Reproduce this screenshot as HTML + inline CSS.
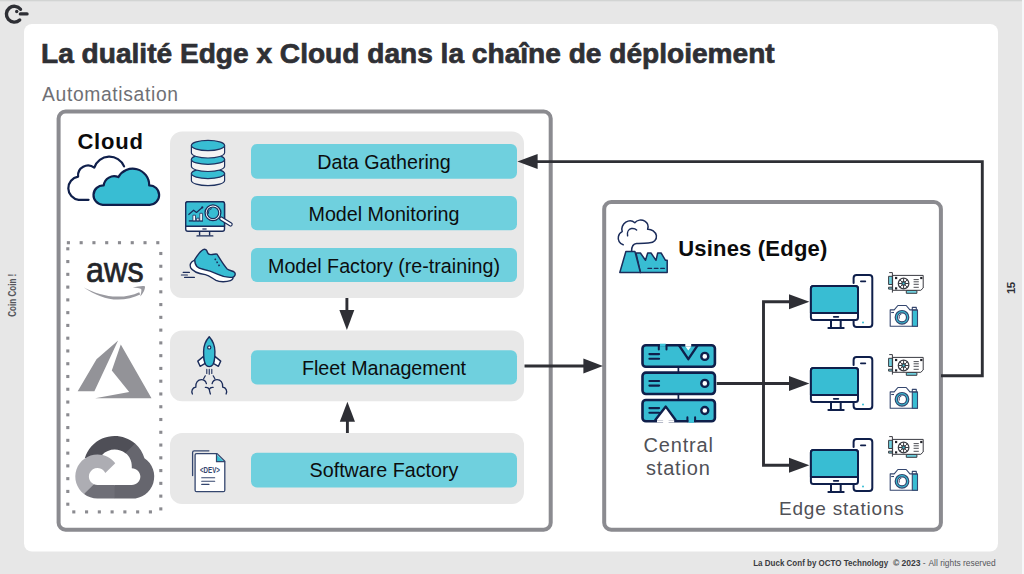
<!DOCTYPE html>
<html><head><meta charset="utf-8">
<style>
html,body{margin:0;padding:0;width:1024px;height:574px;overflow:hidden;background:#e7e7e7;}
svg{position:absolute;left:0;top:0;display:block;}
text{font-family:"Liberation Sans",sans-serif;}
</style></head>
<body>
<svg width="1024" height="574" viewBox="0 0 1024 574">
<defs>
  <g id="monitor">
  </g>
</defs>
<!-- page bg -->
<rect x="0" y="0" width="1024" height="574" fill="#e7e7e7"/>
<rect x="0" y="0" width="1024" height="1.3" fill="#d2d4d3"/>
<rect x="1022" y="0" width="2" height="574" fill="#f6f7f9"/>
<!-- card -->
<rect x="24" y="24" width="974" height="527.5" rx="8" fill="#ffffff"/>

<!-- logo -->
<g fill="none" stroke="#2e2f35" stroke-width="3.4" stroke-linecap="round">
  <path d="M20.5 9.3 A7.9 7.9 0 1 0 19.7 20"/>
  <line x1="20.4" y1="13.9" x2="27" y2="13.9"/>
</g>
<circle cx="16.7" cy="11.5" r="1.7" fill="#2e2f35"/>

<!-- side texts -->
<text transform="translate(15.7,316.7) rotate(-90)" font-size="10.4" font-weight="700" fill="#55565b" textLength="43" lengthAdjust="spacingAndGlyphs">Coin Coin !</text>
<text transform="translate(1015.1,294) rotate(-90)" font-size="11.6" font-weight="700" fill="#2e2f35" letter-spacing="-0.7">15</text>
<!-- footer -->
<g font-size="8.6" fill="#3a3b40">
<text x="753.2" y="566.3" font-weight="700" textLength="135" lengthAdjust="spacingAndGlyphs">La Duck Conf by OCTO Technology</text>
<text x="892.9" y="566.3" font-weight="700" textLength="27.7" lengthAdjust="spacingAndGlyphs">© 2023</text>
<text x="922.8" y="566.3" fill="#55565b">-</text>
<text x="928.5" y="566.3" fill="#55565b" textLength="67.2" lengthAdjust="spacingAndGlyphs">All rights reserved</text>
</g>

<!-- title -->
<text x="41" y="63" font-size="28.1" font-weight="700" fill="#2f3035" stroke="#2f3035" stroke-width="0.7">La dualité Edge x Cloud dans la chaîne de déploiement</text>
<text x="42" y="101.1" font-size="19.3" fill="#6f7075" letter-spacing="0.65">Automatisation</text>

<!-- frames -->
<rect x="58.6" y="111.6" width="492.1" height="418.1" rx="7" fill="none" stroke="#8b8b90" stroke-width="4"/>
<rect x="604.2" y="202.1" width="336.7" height="327.6" rx="7" fill="none" stroke="#8b8b90" stroke-width="4"/>

<!-- panels -->
<rect x="170" y="131.4" width="354" height="166.6" rx="12" fill="#e8e8e8"/>
<rect x="170" y="330.5" width="354" height="70.8" rx="12" fill="#e8e8e8"/>
<rect x="170" y="433" width="354" height="71" rx="12" fill="#e8e8e8"/>

<!-- teal boxes -->
<g fill="#6fd0de">
<rect x="251" y="144" width="266" height="34.7" rx="6"/>
<rect x="251" y="196" width="266" height="34.2" rx="6"/>
<rect x="251" y="248.1" width="266" height="33.9" rx="6"/>
<rect x="251" y="350.2" width="266" height="34.3" rx="6"/>
<rect x="251" y="452.8" width="266" height="34.7" rx="6"/>
</g>
<g font-size="19.7" fill="#0c0d0e" text-anchor="middle">
<text x="384" y="168.9">Data Gathering</text>
<text x="384" y="220.7">Model Monitoring</text>
<text x="384" y="272.6">Model Factory (re-training)</text>
<text x="384" y="374.8">Fleet Management</text>
<text x="384" y="477.4">Software Factory</text>
</g>

<!-- Cloud header -->
<text x="77.4" y="148.5" font-size="22" font-weight="700" fill="#0b0b0c" letter-spacing="0.8">Cloud</text>
<text x="678.2" y="256" font-size="22" font-weight="700" fill="#0b0b0c" letter-spacing="0.2">Usines (Edge)</text>

<!-- edge labels -->
<g font-size="20" fill="#505157" text-anchor="middle">
<text x="678.6" y="451.6" letter-spacing="0.8">Central</text>
<text x="678.3" y="475" letter-spacing="0.8">station</text>
</g>
<text x="841.8" y="515.2" font-size="19" fill="#505157" text-anchor="middle" letter-spacing="0.8">Edge stations</text>

<!-- dotted box -->
<g fill="#8b8b90"><rect x="66.85" y="241.15" width="3.1" height="3.1"/><rect x="79.62" y="241.15" width="3.1" height="3.1"/><rect x="92.39" y="241.15" width="3.1" height="3.1"/><rect x="105.16" y="241.15" width="3.1" height="3.1"/><rect x="117.93" y="241.15" width="3.1" height="3.1"/><rect x="130.70" y="241.15" width="3.1" height="3.1"/><rect x="143.47" y="241.15" width="3.1" height="3.1"/><rect x="156.24" y="241.15" width="3.1" height="3.1"/><rect x="159.25" y="251.95" width="3.1" height="3.1"/><rect x="159.25" y="264.72" width="3.1" height="3.1"/><rect x="159.25" y="277.49" width="3.1" height="3.1"/><rect x="159.25" y="290.26" width="3.1" height="3.1"/><rect x="159.25" y="303.03" width="3.1" height="3.1"/><rect x="159.25" y="315.80" width="3.1" height="3.1"/><rect x="159.25" y="328.57" width="3.1" height="3.1"/><rect x="159.25" y="341.34" width="3.1" height="3.1"/><rect x="159.25" y="354.11" width="3.1" height="3.1"/><rect x="159.25" y="366.88" width="3.1" height="3.1"/><rect x="159.25" y="379.65" width="3.1" height="3.1"/><rect x="159.25" y="392.42" width="3.1" height="3.1"/><rect x="159.25" y="405.19" width="3.1" height="3.1"/><rect x="159.25" y="417.96" width="3.1" height="3.1"/><rect x="159.25" y="430.73" width="3.1" height="3.1"/><rect x="159.25" y="443.50" width="3.1" height="3.1"/><rect x="159.25" y="456.27" width="3.1" height="3.1"/><rect x="159.25" y="469.04" width="3.1" height="3.1"/><rect x="159.25" y="481.81" width="3.1" height="3.1"/><rect x="159.25" y="494.58" width="3.1" height="3.1"/><rect x="159.25" y="507.35" width="3.1" height="3.1"/><rect x="72.25" y="510.35" width="3.1" height="3.1"/><rect x="85.02" y="510.35" width="3.1" height="3.1"/><rect x="97.79" y="510.35" width="3.1" height="3.1"/><rect x="110.56" y="510.35" width="3.1" height="3.1"/><rect x="123.33" y="510.35" width="3.1" height="3.1"/><rect x="136.10" y="510.35" width="3.1" height="3.1"/><rect x="148.87" y="510.35" width="3.1" height="3.1"/><rect x="66.25" y="247.25" width="3.1" height="3.1"/><rect x="66.25" y="260.02" width="3.1" height="3.1"/><rect x="66.25" y="272.79" width="3.1" height="3.1"/><rect x="66.25" y="285.56" width="3.1" height="3.1"/><rect x="66.25" y="298.33" width="3.1" height="3.1"/><rect x="66.25" y="311.10" width="3.1" height="3.1"/><rect x="66.25" y="323.87" width="3.1" height="3.1"/><rect x="66.25" y="336.64" width="3.1" height="3.1"/><rect x="66.25" y="349.41" width="3.1" height="3.1"/><rect x="66.25" y="362.18" width="3.1" height="3.1"/><rect x="66.25" y="374.95" width="3.1" height="3.1"/><rect x="66.25" y="387.72" width="3.1" height="3.1"/><rect x="66.25" y="400.49" width="3.1" height="3.1"/><rect x="66.25" y="413.26" width="3.1" height="3.1"/><rect x="66.25" y="426.03" width="3.1" height="3.1"/><rect x="66.25" y="438.80" width="3.1" height="3.1"/><rect x="66.25" y="451.57" width="3.1" height="3.1"/><rect x="66.25" y="464.34" width="3.1" height="3.1"/><rect x="66.25" y="477.11" width="3.1" height="3.1"/><rect x="66.25" y="489.88" width="3.1" height="3.1"/><rect x="66.25" y="502.65" width="3.1" height="3.1"/>
</g>

<!-- arrows / lines -->
<g fill="none" stroke="#2e2f35" stroke-width="2.9">
  <polyline points="941,375.8 982.3,375.8 982.3,161.6 536,161.6"/>
  <line x1="524.5" y1="366" x2="585" y2="366"/>
  <line x1="346.9" y1="298" x2="346.9" y2="311"/>
  <line x1="347.4" y1="420" x2="347.4" y2="433"/>
  <line x1="716.7" y1="383.5" x2="790" y2="383.5"/>
  <polyline points="790,301.7 763.5,301.7 763.5,465.2 790,465.2"/>
</g>
<g fill="#2e2f35">
  <polygon points="517.4,161.5 537.6,154 537.6,169"/>
  <polygon points="602.9,366 583.4,358.4 583.4,373.5"/>
  <polygon points="346.9,329.9 339.4,310 354.3,310"/>
  <polygon points="347.4,401.7 339.8,421.7 355,421.7"/>
  <polygon points="809.4,301.7 789,294.2 789,309.2"/>
  <polygon points="809.4,383.6 789,376.1 789,391.1"/>
  <polygon points="809.4,465.3 789,457.8 789,472.8"/>
</g>

<!-- ICONS -->
<!-- cloud pair -->
<g stroke="#0f1f4b" stroke-width="2.2" stroke-linecap="round" stroke-linejoin="round">
  <path d="M88.56 199.86 H78.63 A11.78 11.78 0 0 1 78.1 176.56 A10 10 0 0 1 94.3 167.67 A15.9 15.9 0 0 1 124.08 166.42" fill="none"/>
  <path d="M102.7 204.8 H149.7 A9.6 9.6 0 0 0 149.2 185.4 A16.5 16.5 0 0 0 118.3 177.1 A10.5 10.5 0 0 0 103.7 185.4 A9.6 9.6 0 0 0 102.7 204.8 Z" fill="#38bdd3"/>
</g>

<!-- database -->
<g stroke="#1f3260" stroke-width="1.2">
  <path d="M191.4 173.6 V180.4 A16.6 5.2 0 0 0 224.6 180.4 V173.6" fill="#f3f3f3"/>
  <ellipse cx="208" cy="173.6" rx="16.6" ry="5" fill="#38bdd3"/>
  <path d="M191.4 159.4 V166.3 A16.6 5.2 0 0 0 224.6 166.3 V159.4" fill="#f3f3f3"/>
  <ellipse cx="208" cy="159.4" rx="16.6" ry="5" fill="#38bdd3"/>
  <path d="M191.4 145.5 V152.8 A16.6 5.2 0 0 0 224.6 152.8 V145.5" fill="#f3f3f3"/>
  <ellipse cx="208" cy="145.5" rx="16.6" ry="5.1" fill="#38bdd3"/>
</g>
<!-- monitor analytics -->
<g stroke="#1b2c5a" stroke-width="1.4" stroke-linejoin="round">
  <rect x="185.7" y="201.7" width="38.8" height="29.6" rx="2.2" fill="#ffffff"/>
  <path d="M185.7 226.3 V203.9 A2.2 2.2 0 0 1 187.9 201.7 H222.3 A2.2 2.2 0 0 1 224.5 203.9 V226.3 Z" fill="#38bdd3"/>
  <line x1="202.4" y1="229" x2="206.6" y2="229" stroke-width="1.2"/>
  <path d="M199.6 231.3 V235.6 M209.6 231.3 V235.6" fill="none"/>
  <line x1="197" y1="235.9" x2="212.8" y2="235.9" stroke-linecap="round"/>
  <line x1="188.8" y1="220.9" x2="203" y2="220.9" stroke-width="1.3"/>
  <rect x="192.9" y="215.2" width="2.6" height="5.6" fill="#ffffff" stroke-width="0.8"/>
  <rect x="196.7" y="218.2" width="2.3" height="2.6" fill="#ffffff" stroke-width="0.8"/>
  <rect x="199.8" y="213.3" width="2.6" height="7.5" fill="#ffffff" stroke-width="0.8"/>
  <polyline points="188.4,214.8 193.6,210.2 196.5,212.5 202.2,207.5" fill="none" stroke-width="1.2"/>
  <circle cx="202.3" cy="207.4" r="1.1" fill="#1b2c5a" stroke="none"/>
  <path d="M221.2 218.6 L230.6 224.4" stroke-width="4.3" stroke-linecap="round"/>
  <path d="M221.2 218.6 L230.6 224.4" stroke="#ffffff" stroke-width="1.9" stroke-linecap="round"/>
  <circle cx="212.95" cy="212.8" r="7.9" fill="#ffffff" stroke-width="1.3"/>
  <circle cx="212.95" cy="212.8" r="5.8" fill="#38bdd3" stroke-width="1.2"/>
  <path d="M208.6 213.8 A4.6 4.6 0 0 1 211.8 208.6" fill="none" stroke-width="0.9"/>
</g>

<!-- shoe -->
<g stroke="#1b2c5a" stroke-width="1.4" stroke-linejoin="round" stroke-linecap="round">
  <path d="M194.6 260.2 C191.2 261.8 189.2 264.4 190.6 267.6 C192.8 272 199 273.6 205.3 274.6 C209.6 275.4 212.6 278.6 216 280.4 C219.6 282.2 226.6 282 230.4 280.6 C233 279.6 233.6 277.6 232.4 277.2 Z" fill="#ffffff"/>
  <path d="M194.7 259.6 C197.6 255 200.6 250.8 203.2 249.6 C205.2 248.8 206.6 249.8 207 251.2 C207.6 253.4 208.8 254.6 211 254.6 C213.4 254.6 215.6 253.6 217 254.2 C219.8 258.6 223.6 265.2 227.2 269 C229.6 271 233 270.6 234.6 272.4 C236 274.4 234.6 276.8 232.6 277.2 C228 277.8 222.6 276.6 218 274.4 C213 272 208.6 270.2 203 269.2 C197.6 268.2 194.8 266.4 194.7 259.6 Z" fill="#38bdd3"/>
  <path d="M214.9 258.6 L215.7 260.2 M216.7 261.5 L217.5 263.1 M218.6 264.6 L219.4 266.2" stroke-width="1.5" stroke-linecap="butt"/>
  <path d="M183.2 272.4 H189.4 M181.4 275 H187.4 M184.6 277.4 H194.4" stroke-width="1.2"/>
</g>

<!-- rocket -->
<g stroke="#1b2c5a" stroke-width="1.4" stroke-linejoin="round" stroke-linecap="round" fill="none">
  <path d="M203.6 356.4 L197.8 361.1 L200.1 366.3 L205.2 363.4 Z" fill="#ffffff"/>
  <path d="M214.9 356.4 L220.7 361.1 L218.4 366.3 L213.3 363.4 Z" fill="#ffffff"/>
  <path d="M209.24 336.8 C205.8 340.6 203.6 345.6 203.6 351.6 C203.6 357.6 204.2 362.4 205.6 364.6 C206.6 366 208 366.6 209.24 366.6 C210.5 366.6 211.9 366 212.9 364.6 C214.3 362.4 214.9 357.6 214.9 351.6 C214.9 345.6 212.7 340.6 209.24 336.8 Z" fill="#38bdd3"/>
  <circle cx="209.24" cy="347.4" r="1.6" fill="#ffffff" stroke-width="1.2"/>
  <path d="M206.8 369.4 V373.4 M209.24 369.4 V374.2 M211.8 369.4 V373.4" stroke-width="1.1"/>
  <path d="M205.3 375.8 L203.6 378.8 M213.2 375.8 L214.9 378.8" stroke-width="1.2"/>
  <path d="M192.4 394 C191 391 192.4 387.6 195.8 387.2 C195.4 382.6 198 379.6 201.4 379.6 C204 379.6 205.8 381.2 206.4 383.6" stroke-width="1.3"/>
  <path d="M226.1 394 C227.5 391 226.1 387.6 222.7 387.2 C223.1 382.6 220.5 379.6 217.1 379.6 C214.5 379.6 212.7 381.2 212.1 383.6" stroke-width="1.3"/>
  <path d="M205.4 387.4 C207 387.2 208.6 387.8 209.24 389.4 C209.9 387.8 211.5 387.2 213.1 387.4 M209.24 389.4 C209.6 391.2 209.9 392.6 210.4 394" stroke-width="1.3"/>
</g>

<!-- doc -->
<g stroke="#34466e" stroke-width="1.3" fill="none" stroke-linejoin="round" stroke-linecap="round">
  <path d="M192.6 475.6 V452.4 A1.6 1.6 0 0 1 194.2 450.8 H208.9"/>
  <path d="M217.1 453.6 H196.6 A1.5 1.5 0 0 0 195.1 455.1 V490.2 A1.5 1.5 0 0 0 196.6 491.7 H223.3 A1.5 1.5 0 0 0 224.8 490.2 V461.2 Z" fill="#ffffff"/>
  <path d="M216.6 454.4 V461.6 H224" fill="#38bdd3" stroke="none"/>
  <path d="M216.5 453.8 V461.7 H224.6" stroke-width="1.2"/>
  <path d="M201.7 477.8 H214.7 M201.7 481.3 H214.7 M201.7 484.4 H209" stroke-width="1.1"/>
  <text x="209.9" y="472.6" font-size="8.4" font-weight="700" fill="#34466e" stroke="none" text-anchor="middle" transform="translate(209.9 0) scale(0.74 1) translate(-209.9 0)">&lt;DEV&gt;</text>
</g>

<!-- aws -->
<text x="0" y="282.1" font-size="35" fill="#232529" stroke="#232529" stroke-width="0.7" transform="translate(86.1 0) scale(0.925 1)">aws</text>
<path d="M83.4 287.2 C95 295 106 299.6 118 299.6 C126 299.6 134 297.6 140.2 294.6 L139.2 292.2 C132.6 295.4 124.6 296.8 117.2 296.6 C105.6 296.4 94 292.8 83.4 287.2 Z" fill="#9a9aa0"/>
<path d="M132.8 287.8 C136.6 286.6 142 285.6 144.8 286.2 C145.6 287 144.2 292.4 140.2 296.6 C141 293.6 141.8 290.2 141.2 289 C140 288.2 136.2 287.8 132.8 287.8 Z" fill="#9a9aa0"/>
<!-- azure -->
<path d="M118.1 340.4 L96.5 359.3 L77.7 391.3 L94.4 391.3 Z M120.8 344.6 L111.8 370.4 L129.2 392 L95.1 398.3 L151.5 398.3 Z" fill="#939398"/>

<!-- gcp -->
<g transform="translate(75.3 435.9) scale(0.0331 0.03266)">
  <path fill="#4f4f57" d="M1513.8,528.7h72.8l207.4-207.4l10.2-88c-385.9-340.6-975-303.9-1315.6,82C393.9,422.5,325.2,550,287.8,688c23.1-9.5,48.7-11,72.8-4.4l414.7-68.4c0,0,21.1-34.9,32-32.7c184.5-202.6,495-226.2,708-53.8H1513.8z"/>
  <path fill="#66666e" d="M2089.4,688c-47.7-175.5-145.5-333.3-281.6-454l-291,291c122.9,100.4,192.9,251.7,189.9,410.4v51.7c143.1,0,259,116,259,259c0,143.1-116,259-259,259h-518.1l-51.7,52.4v310.7l51.7,51.7h518.1c297,2.3,560.4-190.2,648.4-473.9C2443.4,1162.4,2335.6,854.4,2089.4,688L2089.4,688z"/>
  <path fill="#6f6f77" d="M669.8,1917h518.1v-414.7H669.8c-36.9,0-73.4-7.9-107-23.3l-72.8,22.5l-208.8,207.4l-18.2,72.8C380.1,1870.2,523,1917.6,669.8,1917L669.8,1917z"/>
  <path fill="#adadb3" d="M669.8,571.6c-287.8,1.7-542.7,186-634.5,458.7c-91.8,272.7-0.3,573.7,227.8,749.1l300.5-300.5c-130.4-58.9-188.3-212.3-129.4-342.7c58.9-130.4,212.3-188.3,342.7-129.4c57.4,26,103.4,72,129.4,129.4l300.5-300.5C1078.9,668.6,880.5,570.9,669.8,571.6L669.8,571.6z"/>
</g>

<!-- factory -->
<g stroke="#1b2c5a" stroke-width="1.5" stroke-linejoin="round" stroke-linecap="round">
  <path d="M623.2 244.7 C619.6 243.6 617.6 240 618.4 236.6 C618.8 234.2 620.4 232.4 622.2 231.6 C621 228.2 622.6 224.2 625.8 222.2 C628.8 220.4 632.6 220.8 634.8 222.8 C637.2 219.8 641.6 219.2 644.8 221.2 C647.6 223 648.6 226.4 647.6 229.2 C651.6 229 655.6 231.6 656.4 235.6 C657 239.8 653.6 242.8 649.8 242.8 C645.6 243 640.6 243.2 636.6 243.6 C633 244 631.6 246.6 631.6 251" fill="none"/>
  <path d="M627.6 235.8 C626.8 232 628.6 229.2 631.4 228.6 C633.4 228.2 635.4 228.8 636.6 230" fill="none"/>
  <path d="M636 253 H640.4 L645.5 260.3 L647.7 253 H651 L656 260.3 L657.7 253 H661.1 L665.5 260.3 H667.2 V272.5 H640.4 Z" fill="#38bdd3"/>
  <path d="M619.8 272.5 L625.9 251.4 H634.9 L640.4 272.5 Z" fill="#38bdd3"/>
  <path d="M647.9 268.4 H651.6 M654.3 268.4 H658 M660.7 268.4 H664.4" stroke-width="1.2"/>
</g>

<!-- server -->
<g stroke="#0f1f4b" stroke-width="2.6" stroke-linejoin="round" stroke-linecap="round">
  <rect x="642.5" y="345.2" width="72.4" height="21.6" rx="3.4" fill="#38bdd3"/>
  <rect x="642.5" y="372.6" width="72.4" height="21.4" rx="3.4" fill="#38bdd3"/>
  <rect x="642.5" y="400" width="72.4" height="21.3" rx="3.4" fill="#38bdd3"/>
  <line x1="678.4" y1="366.8" x2="678.4" y2="372.6" stroke-width="1.7"/>
  <line x1="678.4" y1="394" x2="678.4" y2="400" stroke-width="1.7"/>
  <path d="M649.4 354.1 H659.1 M649.4 358.8 H659.1 M649.4 381 H659.1 M649.4 385.6 H659.1 M649.4 408.1 H659.1 M649.4 412.8 H659.1" stroke-width="2.1"/>
  <rect x="659.9" y="343.7" width="5.9" height="3" fill="#3bc2d9" stroke="none"/>
  <rect x="685.3" y="343.6" width="5.9" height="3" fill="#ffffff" stroke="none"/>
  <path d="M658.8 345.3 V349.6 M666.5 345.3 V349.6" fill="none" stroke-width="2"/>
  <path d="M679 345.4 L688.3 359.2 L697.6 345.4" fill="none" stroke-width="2.4"/>
  <path d="M685.6 346.7 H691 L688.3 350.6 Z" fill="#ffffff" stroke="none"/>
  <path d="M655.3 420 L665.8 406.6 L675.6 420" fill="#ffffff" stroke-width="2.4"/>
  <path d="M657 421.3 H674.2" stroke="#ffffff" stroke-width="2.2" stroke-linecap="butt"/>
  <path d="M663.1 423 V418.5 H668.6 V423" fill="#ffffff" stroke="none"/>
  <rect x="688.4" y="419.8" width="5.6" height="3" fill="#3bc2d9" stroke="none"/>
  <path d="M687.4 417.3 V421.3 M695.1 417.3 V421.3" fill="none" stroke-width="2"/>
  <circle cx="704.8" cy="356.4" r="3.5" fill="#ffffff" stroke-width="2.4"/>
  <circle cx="704.8" cy="383.4" r="3.5" fill="#ffffff" stroke-width="2.4"/>
  <circle cx="704.8" cy="410.5" r="3.5" fill="#ffffff" stroke-width="2.4"/>
</g>
<g id="stn">
 <g stroke="#0f1f4b" stroke-width="2" fill="none" stroke-linejoin="round" stroke-linecap="round">
  <path d="M853.6 283 V278 A3 3 0 0 1 856.6 275 H869.3 A3 3 0 0 1 872.3 278 V324 A3 3 0 0 1 869.3 327 H856.6 A3 3 0 0 1 853.6 324 V320.2"/>
  <line x1="860.9" y1="281.3" x2="865.3" y2="281.3" stroke-width="1.8"/>
  <rect x="810.9" y="286.1" width="47.1" height="33.9" rx="2.5" fill="#ffffff"/>
  <path d="M810.9 313 V288.6 A2.5 2.5 0 0 1 813.4 286.1 H855.5 A2.5 2.5 0 0 1 858 288.6 V313 Z" fill="#38bdd3"/>
  <line x1="833.8" y1="316.8" x2="838.3" y2="316.8" stroke-width="1.8"/>
  <path d="M831 321 V327.3 M840.7 321 V327.3" />
  <line x1="828.4" y1="328" x2="843.7" y2="328"/>
 </g>
 <circle cx="863" cy="322.4" r="1" fill="#38bdd3"/>
 <!-- gpu -->
 <g stroke="#3a3b42" stroke-width="1" fill="none" stroke-linejoin="round">
  <rect x="888.6" y="276.3" width="3.8" height="8.2" fill="#6fd0de"/>
  <rect x="888.6" y="287.2" width="3.8" height="1.9" fill="#6fd0de"/>
  <rect x="906.3" y="290.5" width="10.6" height="2.8" fill="#6fd0de"/>
  <path d="M892.6 275.4 H923.2 V288 L920.8 290.3 H892.6 Z" fill="#ffffff"/>
  <path d="M889.2 272.6 H892.4 V292.6"/>
  <circle cx="903.6" cy="283.5" r="5.3" stroke-width="1.2"/>
  <circle cx="903.6" cy="283.5" r="1.9" stroke-width="1.1"/>
  <path d="M903.6 278.3 V288.7 M898.4 283.5 H908.8 M899.9 279.8 L907.3 287.2 M907.3 279.8 L899.9 287.2" stroke-width="1"/>
  <path d="M913.6 279.6 H918.8 M913.6 281.8 H918.8 M913.6 284.3 H918.8 M913.6 287.3 H918.8" stroke-width="0.9"/>
 </g>
 <circle cx="903.6" cy="283.5" r="1.1" fill="#38bdd3"/>
 <g fill="#22232a"><rect x="895" y="276.9" width="2.2" height="2.2"/><rect x="920.2" y="276.9" width="2.2" height="2.2"/><rect x="895" y="287.3" width="2.2" height="2.2"/></g>
 <!-- camera -->
 <g stroke="#34466e" stroke-width="1.1" fill="none" stroke-linejoin="round">
  <path d="M912.3 310 V307.4 H916.3 V310"/>
  <path d="M890.2 309.9 H894.2 L897.9 305.5 H906.2 L909.9 309.9 H917.4 V326.2 H890.2 Z" fill="#ffffff"/>
  <rect x="912.3" y="310.2" width="5.2" height="16" fill="#38bdd3"/>
  <circle cx="902" cy="317.3" r="6.8" fill="#38bdd3" stroke-width="1.2"/>
  <circle cx="902" cy="317.3" r="4.5" fill="#ffffff" stroke-width="1.2"/>
  <path d="M899.3 318.6 V316.2 A2 2 0 0 1 901.3 314.3" stroke-width="0.9"/>
  <line x1="891.2" y1="312.5" x2="894" y2="312.5"/>
 </g>
</g>
<use href="#stn" transform="translate(0 82)"/>
<use href="#stn" transform="translate(0 164)"/>

</svg>
</body></html>
